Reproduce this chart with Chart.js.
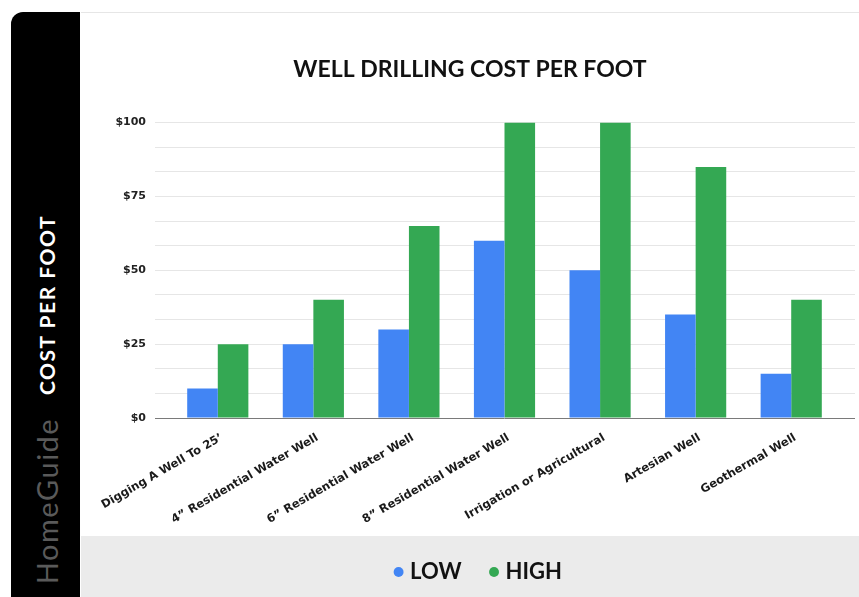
<!DOCTYPE html>
<html>
<head>
<meta charset="utf-8">
<title>Well Drilling Cost Per Foot</title>
<script src="https://cdn.jsdelivr.net/npm/chart.js@4.4.1/dist/chart.umd.min.js"></script>
<style>
  html, body { margin: 0; padding: 0; background: #fff; width: 859px; height: 597px; overflow: hidden; }
  #side { position: absolute; left: 11px; top: 12px; width: 69px; height: 585px; background: #000; border-top-left-radius: 12px; }
  .vt { position: absolute; left: 50%; white-space: nowrap; transform: translate(-50%, -50%) rotate(-90deg); }
  #cpf { top: 293px; color: #fff; font: 700 21px Lato; letter-spacing: 1.5px; }
  #hg { top: 489px; color: #5a5a5a; font: 400 29px Lato; letter-spacing: 1.5px; }
  #topline { position: absolute; left: 81px; top: 12px; width: 778px; height: 1px; background: #e6e6e6; }
  #wrap { position: absolute; left: 81px; top: 12px; width: 778px; height: 585px; }
</style>
</head>
<body>
<div id="side">
  <div class="vt" id="cpf">COST PER FOOT</div>
  <div class="vt" id="hg">HomeGuide</div>
</div>
<div id="topline"></div>
<div id="wrap"><canvas id="costChart" width="778" height="585"></canvas></div>
<script>
const categories = [
  "Digging A Well To 25’",
  "4” Residential Water Well",
  "6” Residential Water Well",
  "8” Residential Water Well",
  "Irrigation or Agricultural",
  "Artesian Well",
  "Geothermal Well",
]
const lowCost = [10, 25, 30, 60, 50, 35, 15]
const highCost = [25, 40, 65, 100, 100, 85, 40]
const yLabels = [0, 25, 50, 75, 100]

// light grid every third of a label step, darker zero line
const gridColor = (c) => (c.tick && Math.abs(c.tick.value) < 1e-6 ? "#7a7a7a" : "#e6e6e6")

// grey band behind the legend, legend nudged a bit right like the original
const legendBackground = {
  id: "legendBackground",
  afterLayout(chart) {
    chart.legend.left += 10
    chart.legend.right += 10
  },
  beforeDraw(chart) {
    const { ctx, width, height } = chart
    ctx.save()
    ctx.fillStyle = "#ebebeb"
    ctx.fillRect(0, height - 61, width, 61)
    ctx.restore()
  },
}

function initializeCostChart() {
  const ctx = document.getElementById("costChart")
  if (!ctx) return

  new Chart(ctx, {
    type: "bar",
    data: {
      labels: categories,
      datasets: [
        {
          label: "LOW",
          data: lowCost,
          backgroundColor: "#4285f4",
          borderWidth: 0,
        },
        {
          label: "HIGH",
          data: highCost,
          backgroundColor: "#34a853",
          borderWidth: 0,
        },
      ],
    },
    plugins: [legendBackground],
    options: {
      responsive: false,
      animation: false,
      layout: { padding: { top: 0, right: 0, bottom: 4, left: 0 } },
      datasets: {
        bar: { categoryPercentage: 0.64, barPercentage: 1.0 },
      },
      plugins: {
        title: {
          display: true,
          text: "WELL DRILLING COST PER FOOT",
          color: "#111",
          font: { family: "Lato", size: 23, weight: "bold" },
          padding: { top: 44, bottom: 39 },
        },
        legend: {
          position: "bottom",
          labels: {
            usePointStyle: true,
            pointStyle: "circle",
            boxWidth: 1,
            boxHeight: 7,
            padding: 32,
            color: "#111",
            font: { family: "Lato", size: 22, weight: "bold" },
          },
        },
        tooltip: { enabled: false },
      },
      scales: {
        x: {
          grid: { display: false, drawTicks: false },
          border: { display: false },
          ticks: {
            color: "#1a1a1a",
            font: { family: "DejaVu Sans", size: 11.5, weight: "bold" },
            minRotation: 30,
            maxRotation: 30,
            padding: 13,
            labelOffset: 4,
            autoSkip: false,
          },
          afterFit(scale) {
            scale.height = 111
            scale.paddingLeft = 0
            scale.paddingRight = 0
          },
        },
        y: {
          min: 0,
          max: 100,
          border: { display: false },
          grid: { color: gridColor, tickLength: 15, lineWidth: 1 },
          ticks: {
            stepSize: 25 / 3,
            padding: 9,
            color: "#222",
            font: { family: "DejaVu Sans", size: 11, weight: "bold" },
            callback: (v) => {
              const r = Math.round(v * 1000) / 1000
              return yLabels.includes(r) ? "$" + r : ""
            },
          },
          afterFit(scale) {
            scale.width = 89
          },
        },
        y2: {
          position: "right",
          min: 0,
          max: 100,
          border: { display: false },
          grid: { color: gridColor, drawOnChartArea: false, tickLength: 16 },
          ticks: { stepSize: 25 / 3, display: false },
          afterFit(scale) {
            scale.width = 20
          },
        },
      },
    },
  })
}

initializeCostChart()
</script>
</body>
</html>
